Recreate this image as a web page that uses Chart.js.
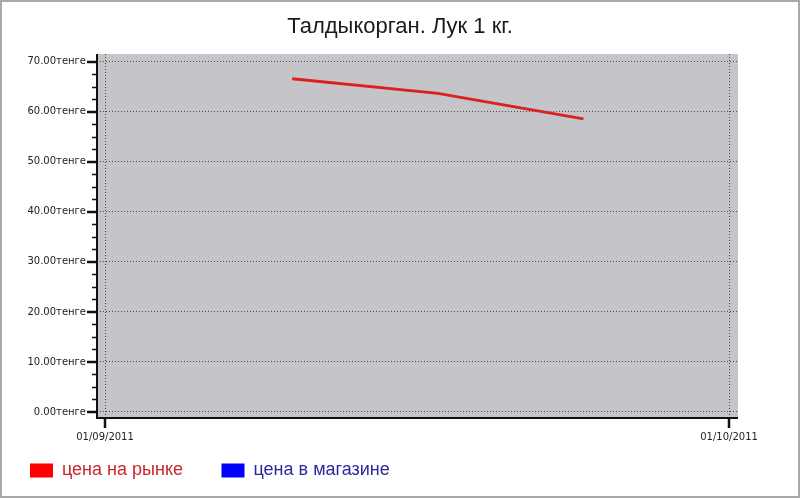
<!DOCTYPE html>
<html>
<head>
<meta charset="utf-8">
<script src="https://cdn.jsdelivr.net/npm/chart.js@4/dist/chart.umd.min.js"></script>
<style>
  html, body { margin: 0; padding: 0; background: #fff; }
  #wrap { width: 800px; height: 498px; }
</style>
</head>
<body>
<div id="wrap"><canvas id="c" width="800" height="498"></canvas></div>
<script>
// ---- data ----
const chartTitle = 'Талдыкорган. Лук 1 кг.';
const seriesNames = ['цена на рынке', 'цена в магазине'];
const marketDates = ['10/09/2011', '17/09/2011', '24/09/2011'];
const marketPrices = [66.6, 63.7, 58.6];
const storeDates = [];
const storePrices = [];
const xTickDates = ['01/09/2011', '01/10/2011'];
const yTickValues = [0, 10, 20, 30, 40, 50, 60, 70];
const yMinorStep = 2.5;
const currencySuffix = 'тенге';

// ---- helpers ----
const BASE = Date.UTC(2011, 8, 1);
function dayOffset(s) {
  const [d, m, y] = s.split('/').map(Number);
  return (Date.UTC(y, m - 1, d) - BASE) / 86400000;
}
const xTickValues = xTickDates.map(dayOffset);
const xLabelMap = {};
xTickDates.forEach(s => { xLabelMap[dayOffset(s)] = s; });

const seriesColors = ['#ff0000', '#0000ff'];
const legendTextColors = ['#c8282d', '#2a2aa0'];
const legendGap = '     ';

const bgPlugin = {
  id: 'bg',
  beforeDraw(chart) {
    const {ctx, chartArea: a} = chart;
    ctx.save();
    ctx.fillStyle = '#ffffff';
    ctx.fillRect(0, 0, chart.width, chart.height);
    ctx.fillStyle = '#c5c4c8';
    ctx.fillRect(a.left, a.top, a.right - a.left, a.bottom - a.top);
    ctx.restore();
  },
  afterDraw(chart) {
    const {ctx, chartArea: a} = chart;
    const ys = chart.scales.y, xs = chart.scales.x;
    ctx.save();
    ctx.strokeStyle = '#111';
    // axis lines
    ctx.lineWidth = 2;
    ctx.beginPath();
    ctx.moveTo(a.left, a.top);
    ctx.lineTo(a.left, a.bottom + 1);
    ctx.moveTo(a.left - 1, a.bottom);
    ctx.lineTo(a.right, a.bottom);
    ctx.stroke();
    // y minor ticks
    ctx.lineWidth = 1.5;
    ctx.beginPath();
    for (let v = yTickValues[0]; v <= yTickValues[yTickValues.length - 1] + 1e-9; v += yMinorStep) {
      if (yTickValues.includes(v)) continue;
      const y = Math.round(ys.getPixelForValue(v)) + 0.5;
      ctx.moveTo(a.left - 5, y);
      ctx.lineTo(a.left, y);
    }
    ctx.stroke();
    // y major ticks
    ctx.lineWidth = 2.5;
    ctx.beginPath();
    yTickValues.forEach(v => {
      const y = Math.round(ys.getPixelForValue(v));
      ctx.moveTo(a.left - 10, y);
      ctx.lineTo(a.left, y);
    });
    ctx.stroke();
    // x ticks
    ctx.lineWidth = 2.5;
    ctx.beginPath();
    xTickValues.forEach(v => {
      const x = Math.round(xs.getPixelForValue(v));
      ctx.moveTo(x, a.bottom);
      ctx.lineTo(x, a.bottom + 10);
    });
    ctx.stroke();
    // outer frame
    ctx.strokeStyle = '#a9a9a9';
    ctx.lineWidth = 2;
    ctx.strokeRect(1, 1, chart.width - 2, chart.height - 2);
    ctx.restore();
  }
};

new Chart(document.getElementById('c'), {
  type: 'line',
  data: {
    datasets: [
      {
        label: seriesNames[0],
        data: marketDates.map((d, i) => ({x: dayOffset(d), y: marketPrices[i]})),
        borderColor: '#dc2020',
        backgroundColor: seriesColors[0],
        borderWidth: 2.8,
        pointRadius: 0,
        tension: 0
      },
      {
        label: seriesNames[1],
        data: storeDates.map((d, i) => ({x: dayOffset(d), y: storePrices[i]})),
        borderColor: seriesColors[1],
        backgroundColor: seriesColors[1],
        borderWidth: 2.8,
        pointRadius: 0,
        tension: 0
      }
    ]
  },
  options: {
    responsive: false,
    animation: false,
    devicePixelRatio: 1,
    layout: { padding: { left: 16.5, right: 16.5, top: 0, bottom: 8.5 } },
    plugins: {
      title: {
        display: true,
        text: chartTitle,
        color: '#1a1a1a',
        font: { family: '"Liberation Sans", Arial, sans-serif', size: 22, weight: 'normal' },
        padding: { top: 14, bottom: 13.6 }
      },
      legend: {
        display: true,
        position: 'bottom',
        align: 'start',
        labels: {
          boxWidth: 23,
          boxHeight: 14,
          padding: 13.5,
          font: { family: '"Liberation Sans", Arial, sans-serif', size: 18 },
          generateLabels(chart) {
            return chart.data.datasets.map((ds, i) => ({
              text: ds.label + (i < chart.data.datasets.length - 1 ? legendGap : ''),
              fillStyle: seriesColors[i],
              strokeStyle: seriesColors[i],
              lineWidth: 0,
              fontColor: legendTextColors[i],
              hidden: false,
              datasetIndex: i
            }));
          }
        }
      },
      tooltip: { enabled: false }
    },
    scales: {
      x: {
        type: 'linear',
        min: -0.385,
        max: 30.43,
        afterFit(scale) { scale.height = 30; },
        afterBuildTicks(scale) { scale.ticks = xTickValues.map(v => ({value: v})); },
        border: { display: false, dash: [1, 2] },
        grid: { color: '#4a4a4a', lineWidth: 1, drawTicks: false },
        ticks: {
          autoSkip: false,
          maxRotation: 0,
          padding: 13,
          color: '#222',
          font: { family: '"DejaVu Sans", Verdana, sans-serif', size: 10 },
          callback: v => xLabelMap[v] || ''
        }
      },
      y: {
        type: 'linear',
        min: -1.2,
        max: 71.55,
        afterFit(scale) { scale.width = 80.5; },
        afterBuildTicks(scale) { scale.ticks = yTickValues.map(v => ({value: v})); },
        border: { display: false, dash: [1, 2] },
        grid: { color: '#4a4a4a', lineWidth: 1, drawTicks: false },
        ticks: {
          padding: 11,
          color: '#222',
          font: { family: '"DejaVu Sans", Verdana, sans-serif', size: 10 },
          callback: v => v.toFixed(2) + currencySuffix
        }
      },
      yRightSpace: {
        type: 'linear',
        position: 'right',
        display: true,
        afterFit(scale) { scale.width = 45.5; },
        border: { display: false },
        grid: { display: false, drawOnChartArea: false },
        ticks: { display: false }
      }
    }
  },
  plugins: [bgPlugin]
});
</script>
</body>
</html>
